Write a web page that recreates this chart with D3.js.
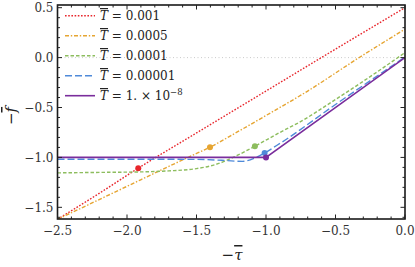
<!DOCTYPE html>
<html>
<head>
<meta charset="utf-8">
<script src="https://cdn.jsdelivr.net/npm/d3@7"></script>
<style>
  body { margin: 0; background: #fff; }
  svg text { font-family: "DejaVu Serif", serif; }
</style>
</head>
<body>
<svg id="chart" width="415" height="267"></svg>
<script>
// curves of -f vs -tau
var tauRed = [-2.5, -2.2, -1.919, -1.5, -1.0, -0.5, 0]
var fRed = [-1.62, -1.36, -1.108, -0.755, -0.335, 0.085, 0.5]

var tauOrange = [-2.5, -2.0, -1.775, -1.5, -1.403, -1.2, -1.0, -0.7, -0.336, 0]
var fOrange = [-1.62, -1.29, -1.14, -0.96, -0.897, -0.74, -0.58, -0.335, -0.005, 0.285]

var tauGreen = [-2.5, -2.2, -1.9, -1.7, -1.5, -1.4, -1.3, -1.237, -1.15, -1.08, -0.9, -0.755, -0.5, -0.25, 0]
var fGreen = [-1.155, -1.15, -1.145, -1.135, -1.112, -1.085, -1.04, -1.0, -0.94, -0.888, -0.75, -0.644, -0.42, -0.19, 0.05]

var tauBlue = [-2.5, -2.0, -1.5, -1.3, -1.17, -1.08, -1.01, -0.9, -0.5, 0]
var fBlue = [-1.018, -1.018, -1.02, -1.03, -1.04, -1.005, -0.955, -0.86, -0.47, 0.005]

var tauPurple = [-2.5, -1.0, 0]
var fPurple = [-1.0, -1.0, 0.0]

// marked points on each curve
var dotTau = [-1.919, -1.403, -1.08, -1.01, -1.0]
var dotF = [-1.108, -0.897, -0.888, -0.955, -1.0]

var legendLabels = ["0.001", "0.0005", "0.0001", "0.00001", "1. \u00d7 10"]
var colors = ["#e8262c", "#e6a532", "#8dbd5e", "#4f8ad9", "#7a2d9c"]
var dashes = ["1.6,1.6", "4,1.8,1.4,1.8", "3.5,2", "7,3", null]

var xTicks = [-2.5, -2.0, -1.5, -1.0, -0.5, 0.0]
var yTicks = [-1.5, -1.0, -0.5, 0.0, 0.5]

var series = [
    { tau: tauRed, f: fRed },
    { tau: tauOrange, f: fOrange },
    { tau: tauGreen, f: fGreen },
    { tau: tauBlue, f: fBlue },
    { tau: tauPurple, f: fPurple }
]

var svg = d3.select("#chart")
var mLeft = 57.5, mRight = 405, mTop = 5, mBottom = 219

var x = d3.scaleLinear().domain([-2.5, 0]).range([mLeft, mRight])
var y = d3.scaleLinear().domain([-1.617, 0.527]).range([mBottom, mTop])

function fmt(v) {
    return d3.format(".1f")(v).replace("-", "\u2212")
}

// gray dotted zero line
svg.append("line")
    .attr("x1", x(-2.5)).attr("x2", x(0))
    .attr("y1", y(0)).attr("y2", y(0))
    .attr("stroke", "#bbb")
    .attr("stroke-width", 0.8)
    .attr("stroke-dasharray", "1,2.5")

svg.append("clipPath").attr("id", "clip")
    .append("rect")
    .attr("x", mLeft).attr("y", mTop)
    .attr("width", mRight - mLeft).attr("height", mBottom - mTop)

var plot = svg.append("g").attr("clip-path", "url(#clip)")

series.forEach(function (s, i) {
    var pts = s.tau.map(function (t, j) { return [t, s.f[j]] })
    var line = d3.line()
        .x(d => x(d[0]))
        .y(d => y(d[1]))
        .curve(i == 4 ? d3.curveLinear : d3.curveMonotoneX)
    plot.append("path")
        .attr("d", line(pts))
        .attr("fill", "none")
        .attr("stroke", colors[i])
        .attr("stroke-width", i == 4 ? 1.6 : 1.4)
        .attr("stroke-dasharray", dashes[i])
})

plot.selectAll("circle.dot")
    .data(dotTau)
    .enter()
    .append("circle")
    .attr("class", "dot")
    .attr("cx", d => x(d))
    .attr("cy", (d, i) => y(dotF[i]))
    .attr("r", 3)
    .attr("fill", (d, i) => colors[i])

// frame with inward ticks on all four sides
var frame = svg.append("g")
frame.append("rect")
    .attr("x", mLeft).attr("y", mTop)
    .attr("width", mRight - mLeft).attr("height", mBottom - mTop)
    .attr("fill", "none")
    .attr("stroke", "#1a1a1a")
    .attr("stroke-width", 1.6)

var xMinor = d3.range(-25, 1).map(v => v / 10)
var yMinor = d3.range(-16, 6).map(v => v / 10)

function isMajor(v) { return Math.abs(v * 2 - Math.round(v * 2)) < 1e-6 }

xMinor.forEach(function (v) {
    var len = isMajor(v) ? 4.5 : 2.5
    frame.append("line").attr("x1", x(v)).attr("x2", x(v))
        .attr("y1", mBottom).attr("y2", mBottom - len)
        .attr("stroke", "#222").attr("stroke-width", 1)
    frame.append("line").attr("x1", x(v)).attr("x2", x(v))
        .attr("y1", mTop).attr("y2", mTop + len)
        .attr("stroke", "#222").attr("stroke-width", 1)
})

yMinor.forEach(function (v) {
    var len = isMajor(v) ? 4.5 : 2.5
    frame.append("line").attr("y1", y(v)).attr("y2", y(v))
        .attr("x1", mLeft).attr("x2", mLeft + len)
        .attr("stroke", "#222").attr("stroke-width", 1)
    frame.append("line").attr("y1", y(v)).attr("y2", y(v))
        .attr("x1", mRight).attr("x2", mRight - len)
        .attr("stroke", "#222").attr("stroke-width", 1)
})

svg.selectAll("text.xtick")
    .data(xTicks)
    .enter()
    .append("text")
    .attr("class", "xtick")
    .attr("x", d => x(d))
    .attr("y", mBottom + 16)
    .attr("text-anchor", "middle")
    .attr("font-size", 12)
    .attr("fill", "#333")
    .text(fmt)

svg.selectAll("text.ytick")
    .data(yTicks)
    .enter()
    .append("text")
    .attr("class", "ytick")
    .attr("x", mLeft - 4)
    .attr("y", d => y(d) + 4.3)
    .attr("text-anchor", "end")
    .attr("font-size", 12)
    .attr("fill", "#333")
    .text(fmt)

// axis labels
var xl = svg.append("text")
    .attr("x", 232).attr("y", 260)
    .attr("text-anchor", "middle")
    .attr("font-size", 15)
    .attr("fill", "#222")
xl.append("tspan").text("\u2212")
xl.append("tspan").attr("font-style", "italic")
    .style("text-decoration", "overline").text("\u03c4")

var yl = svg.append("text")
    .attr("transform", "translate(16,116) rotate(-90)")
    .attr("text-anchor", "middle")
    .attr("font-size", 15)
    .attr("fill", "#222")
yl.append("tspan").text("\u2212")
yl.append("tspan").attr("font-style", "italic")
    .style("text-decoration", "overline").text("f")

// legend
var legend = svg.append("g")
legendLabels.forEach(function (lab, i) {
    var ly = 15.7 + i * 20
    legend.append("line")
        .attr("x1", 65).attr("x2", 95)
        .attr("y1", ly).attr("y2", ly)
        .attr("stroke", colors[i])
        .attr("stroke-width", i == 4 ? 1.6 : 1.4)
        .attr("stroke-dasharray", dashes[i])
    var t = legend.append("text")
        .attr("x", 100).attr("y", ly + 4.3)
        .attr("font-size", 12)
        .attr("fill", "#222")
    t.append("tspan").attr("font-style", "italic")
        .style("text-decoration", "overline").text("T")
    t.append("tspan").text(" = " + lab)
    if (i == 4) {
        t.append("tspan").attr("dy", -5).attr("font-size", 8.5).text("\u22128")
    }
})
</script>
</body>
</html>
